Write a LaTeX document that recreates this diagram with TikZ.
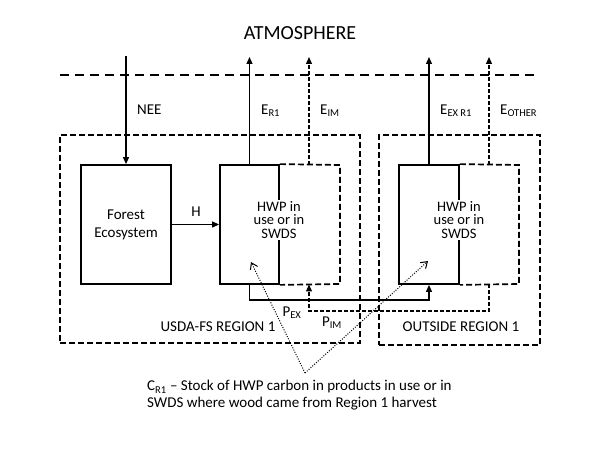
\documentclass[tikz,border=0pt]{standalone}
\usepackage{fontspec}
\setmainfont{Carlito}
\usetikzlibrary{arrows.meta}
\begin{document}
\begin{tikzpicture}[x=1pt,y=-1pt,
  box/.style={draw, line width=1.8pt, inner sep=0pt},
  dbox/.style={line width=1.7pt, dash pattern=on 6pt off 3pt},
  region/.style={draw, line width=1.7pt, dash pattern=on 6pt off 3pt},
  flow/.style={line width=1.2pt, -{Triangle[length=7pt,width=6pt]}},
  dflow/.style={line width=1.2pt, dash pattern=on 4pt off 2pt, -{Triangle[length=7pt,width=6pt]}},
  dotarrow/.style={line width=1pt, dash pattern=on 1pt off 1.5pt, -{Straight Barb[length=6pt,width=8pt]}},
  lbl/.style={font=\fontsize{15}{17}\selectfont, inner sep=0pt},
  hwptext/.style={font=\fontsize{14.5}{13.5}\selectfont, align=center, fill=white, inner sep=1.5pt}
]
\useasboundingbox (0,0) rectangle (600,449);

% title and atmosphere line
\node[font=\fontsize{20}{24}\selectfont, inner sep=0pt] (atm) at (300,33) {ATMOSPHERE};
\coordinate (atmL) at (60,75);
\coordinate (atmR) at (536,75);
\draw[line width=2.2pt, dash pattern=on 9pt off 6pt] (atmL) -- (atmR);

% regions
\node[region, minimum width=300pt, minimum height=208pt] (reg1) at (210,239) {};
\node[region, minimum width=161pt, minimum height=210pt] (reg2) at (459.5,240) {};

% boxes
\node[box, minimum width=90pt, minimum height=119pt, align=center, font=\fontsize{15}{18}\selectfont] (forest) at (126,224.5) {Forest\\Ecosystem};
\node[box, minimum width=59pt, minimum height=119pt] (hwp1) at (249.5,224.5) {};
\node[box, minimum width=60pt, minimum height=119pt] (hwp2) at (429,224.5) {};

\coordinate (h1ne) at (340,165);
\coordinate (h1se) at (340,284);
\coordinate (h2ne) at (519,165);
\coordinate (h2se) at (519,284);
\draw[dbox] (hwp1.north east) -- (h1ne) -- (h1se) -- (hwp1.south east);
\draw[dbox] (hwp2.north east) -- (h2ne) -- (h2se) -- (hwp2.south east);

\node[hwptext] (t1) at (279,220) {HWP in\\use or in\\SWDS};
\node[hwptext] (t2) at (459,220) {HWP in\\use or in\\SWDS};

% NEE
\coordinate (neetop) at (126,56);
\draw[flow] (neetop) -- (forest.north);
\node[lbl, anchor=west] (nee) at (137,110) {NEE};

% H
\draw[flow] (forest.east) -- (hwp1.west);
\node[lbl] (hl) at (196,212) {H};

% emissions
\coordinate (er1top) at (249.5,57);
\draw[flow] (hwp1.north) -- (er1top);
\node[lbl, anchor=west] (er1) at (261,111) {E\textsubscript{R1}};

\coordinate (eimbot) at (309,165);
\coordinate (eimtop) at (309,57);
\draw[dflow] (eimbot) -- (eimtop);
\node[lbl, anchor=west] (eim) at (320,111) {E\textsubscript{IM}};

\coordinate (eextop) at (429,57);
\draw[flow] (hwp2.north) -- (eextop);
\node[lbl, anchor=west] (eex) at (440,111) {E\textsubscript{EX R1}};

\coordinate (eobot) at (489,165);
\coordinate (eotop) at (489,57);
\draw[dflow] (eobot) -- (eotop);
\node[lbl, anchor=west] (eo) at (500,111) {E\textsubscript{OTHER}};

% P_EX
\coordinate (pex1) at (249.5,300);
\draw[flow] (hwp1.south) -- (pex1) -| (hwp2.south);
\node[lbl] (pexl) at (292,313) {P\textsubscript{EX}};

% P_IM
\coordinate (pimstart) at (489,284);
\coordinate (pim1) at (489,311);
\coordinate (pimend) at (309,284.5);
\draw[dflow] (pimstart) -- (pim1) -| (pimend);
\node[lbl] (piml) at (332,323) {P\textsubscript{IM}};

% region labels
\node[lbl] (r1l) at (218,327) {USDA-FS REGION 1};
\node[lbl] (r2l) at (461,327) {OUTSIDE REGION 1};

% C_R1 dotted pointers
\coordinate (apex) at (305,373);
\coordinate (tip1) at (251,262);
\coordinate (tip2) at (428,261);
\draw[dotarrow] (apex) -- (tip1);
\draw[dotarrow] (apex) -- (tip2);

\node[lbl, anchor=west, align=left, font=\fontsize{15}{17}\selectfont] (crl) at (147,395.5)
  {C\textsubscript{R1} -- Stock of HWP carbon in products in use or in\\SWDS where wood came from Region 1 harvest};
\end{tikzpicture}
\end{document}
